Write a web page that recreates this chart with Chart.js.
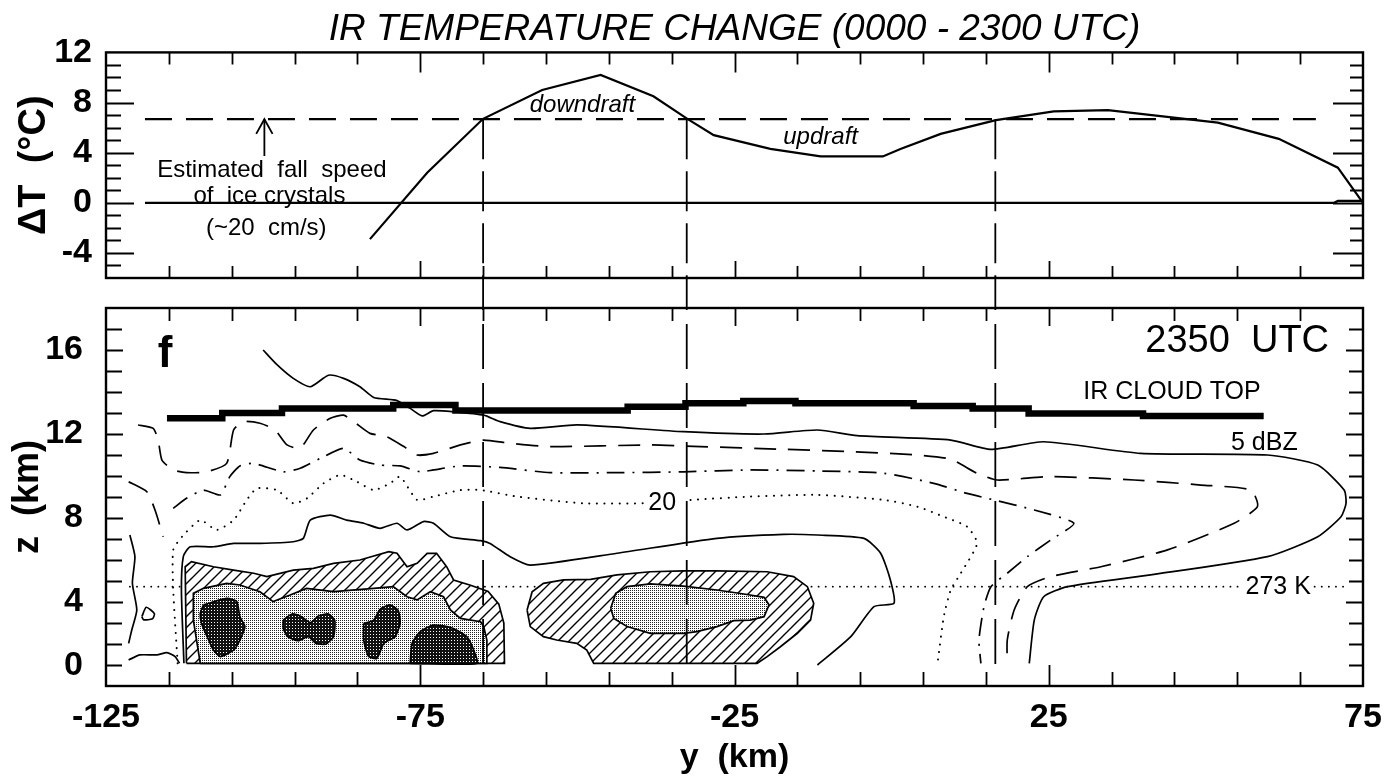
<!DOCTYPE html>
<html>
<head>
<meta charset="utf-8">
<script src="https://cdn.jsdelivr.net/npm/chart.js@4.4.1/dist/chart.umd.min.js"></script>
<style>
  html, body { margin: 0; padding: 0; background: #fff; }
  #wrap { position: relative; width: 1397px; height: 778px; }
  #wrap canvas { position: absolute; left: 0; top: 0; }
</style>
</head>
<body>
<div id="wrap">
  <canvas id="cBottom" width="1397" height="778"></canvas>
  <canvas id="cTop" width="1397" height="778"></canvas>
</div>
<script>
// ---------- top panel: IR temperature change ----------
const yTop   = [-83, -73.9, -65, -55.6, -46.3, -37.9, -32.5, -28.3, -19.3, -11.3, -1.4, 1.4, 7.8, 16.6, 25.8, 34.4, 51.9, 61.6, 71, 75, 76.6];
const deltaT = [-2.9, 2.4, 6.7, 9.0, 10.2, 8.5, 6.7, 5.4, 4.3, 3.7, 3.7, 4.3, 5.5, 6.6, 7.3, 7.4, 6.4, 5.1, 2.8, 0, -1.7];
const zeroLine  = [[-118.8, 0], [70.4, 0], [71, 0.15], [75, 0.15]];
const fallLevel = 6.67;                 // estimated fall speed of ice crystals
const fallSpan  = [-118.8, 67.5];
const arrowAt   = -99.8;
const dividers  = [-65, -32.6, 16.5];   // downdraft / updraft boundaries

// tick labels
const xTickLabels = [-125, -75, -25, 25, 75];
const dTTicks = [-4, 0, 4, 8, 12];
const zTicks  = [0, 4, 8, 12, 16];

// ---------- bottom panel: reflectivity cross-section (y km, z km) ----------
const cloudTop = [[-115.3, 12.75], [-106.5, 13.0], [-97, 13.22], [-79.3, 13.38], [-69.4, 13.12], [-42, 13.3],
  [-32.8, 13.46], [-23.6, 13.57], [-15.3, 13.46], [3.5, 13.33], [12.9, 13.22], [21.8, 12.98], [40, 12.86], [59.2, 12.86]];

const dbz5 = [[-100, 16.0], [-97.8, 15.3], [-95.2, 14.65], [-92.5, 14.25], [-89.6, 14.8], [-87.2, 14.65], [-84.6, 14.25],
  [-82.4, 13.74], [-78.7, 13.59], [-76.6, 13.22], [-74.7, 12.86], [-72.9, 13.11], [-69.7, 13.06], [-64.9, 12.9],
  [-62.3, 12.59], [-57.5, 12.27], [-50.0, 12.43], [-33.1, 12.11], [-20.3, 12.0], [-11.8, 12.19], [-5.5, 11.92],
  [9.4, 11.71], [15.8, 11.27], [24.2, 11.63], [39.6, 11.08], [59.8, 11.0], [67.8, 10.52], [72.0, 9.33], [72.3, 8.7],
  [71.5, 8.06], [67.8, 7.11], [59.8, 6.16], [41.2, 5.29], [28.0, 4.73], [24.2, 4.25], [22.7, 3.14], [21.9, 1.08]];
const dbz5Left = [[-121.2, 7.19], [-120.4, 6.16], [-120.8, 4.89], [-120.1, 3.62], [-120.9, 2.67], [-121.4, 2.03]];
const dbz5Foot = [[-121.4, 1.24], [-119.6, 1.48], [-116.9, 1.48], [-115.3, 1.59], [-114.0, 1.4], [-113.3, 1.08]];
const dbz5Loop = [[-119.3, 3.3], [-118.6, 3.75], [-117.3, 3.45], [-117.6, 3.2], [-119.0, 3.15], [-119.3, 3.3]];

const dbz10 = [[-119.9, 12.43], [-117.5, 12.27], [-116.7, 11.71], [-116.1, 10.76], [-114.3, 10.29], [-112.2, 10.16],
  [-109.0, 10.2], [-105.8, 10.6], [-104.7, 12.19], [-103.1, 12.59], [-100.5, 12.51], [-98.1, 12.19], [-96.2, 11.48],
  [-94.1, 11.32], [-92.0, 12.19], [-89.3, 12.75], [-87.2, 12.9], [-85.6, 12.59], [-83.0, 12.03], [-80.3, 11.87],
  [-77.6, 11.4], [-75.5, 11.0], [-72.9, 11.08], [-68.6, 11.48], [-65, 11.71], [-60.7, 11.56], [-54.3, 11.4],
  [-38.4, 11.48], [-33.1, 11.43], [-17.2, 11.27], [-6.5, 11.16], [4.1, 11.0], [9.4, 10.8], [13.6, 10.13], [16.8, 9.81],
  [25.3, 9.97], [38.6, 9.81], [49.2, 9.57], [57.2, 9.33], [58.2, 8.54], [54.5, 7.75], [43.9, 6.48], [33.3, 5.68],
  [25.3, 5.21], [21.6, 4.73], [19.5, 3.62], [18.4, 2.19], [18.4, 1.08]];
const dbz10Left = [[-121.4, 9.73], [-118.5, 9.25], [-117.2, 8.38], [-115.9, 7.11]];

const dbz15 = [[-114.3, 8.46], [-112.2, 8.94], [-109.5, 9.33], [-106.8, 9.1], [-105.3, 9.97], [-103.7, 10.48],
  [-101.5, 10.6], [-96.8, 10.2], [-94.1, 10.37], [-90.9, 10.84], [-87.2, 11.32], [-84.6, 10.76], [-81.4, 10.52],
  [-78.2, 10.48], [-75.0, 10.2], [-72.9, 10.29], [-68.6, 10.48], [-62.3, 10.41], [-54.3, 10.16], [-43.7, 10.16],
  [-33.1, 10.2], [-22.5, 10.29], [-11.8, 10.24], [-1.2, 10.13], [6.7, 9.65], [12.0, 9.17], [16.3, 8.86], [22.7, 8.38],
  [29.0, 7.75], [25.3, 6.95], [21.6, 6.16], [18.4, 5.37], [15.8, 4.73], [14.7, 3.78], [13.9, 2.19], [14.2, 1.08]];

const dbz20 = [[-113.6, 1.08], [-114.3, 4.57], [-114.3, 6.48], [-112.9, 7.11], [-110.0, 7.9], [-107.4, 7.43],
  [-104.7, 7.9], [-102.6, 8.86], [-101.0, 9.41], [-97.8, 9.33], [-95.2, 8.7], [-93.0, 8.94], [-90.4, 9.65],
  [-87.7, 10.05], [-85.1, 9.73], [-82.4, 9.33], [-79.8, 9.65], [-78.2, 9.97], [-75.5, 8.86], [-72.9, 9.02],
  [-68.6, 9.33], [-65.4, 9.33], [-59.6, 9.02], [-49.0, 8.7], [-38.9, 8.7], [-38.8, null], [-32.0, 8.86],
  [-22.5, 9.02], [-11.8, 9.1], [-1.2, 8.86], [4.1, 8.54], [8.3, 8.06], [12.0, 7.59], [13.6, 6.79], [11.0, 5.37],
  [9.4, 4.57], [8.3, 3.3], [7.3, 1.08]];

const dbz25 = [[-112.6, 1.08], [-113.0, 4.57], [-112.7, 6.16], [-111.6, 6.63], [-107.9, 6.63], [-104.7, 6.79],
  [-100.5, 6.79], [-95.2, 6.87], [-93.6, 7.03], [-92.5, 7.9], [-89.3, 8.14], [-86.7, 7.9], [-84.0, 7.75],
  [-81.4, 7.51], [-78.7, 7.75], [-77.1, 7.43], [-74.5, 7.83], [-72.9, 7.75], [-70.2, 7.11], [-65.4, 6.92],
  [-63.9, 6.79], [-60.7, 6.16], [-57.5, 5.76], [-43.7, 6.32], [-27.8, 7.03], [-17.2, 7.22], [-11.8, 7.19],
  [-4.4, 7.03], [-1.75, 6.32], [-0.2, 5.05], [0.37, 3.94], [-2.8, 3.78], [-6.5, 2.35], [-11.8, 1.0]];

// 30 dBZ (hatched)
const hatchA = [[-112.2, 1.08], [-112.4, 5.68], [-111.4, 5.92], [-107.9, 5.68], [-104.7, 5.52], [-101.5, 5.37],
  [-99.4, 5.21], [-95.2, 5.52], [-92.0, 5.6], [-88.8, 5.84], [-84.6, 6.0], [-80.0, 6.4], [-78.7, 6.32], [-77.1, 5.68],
  [-75.5, 5.84], [-73.9, 6.32], [-72.4, 6.32], [-70.8, 5.68], [-69.7, 5.05], [-67.0, 4.8], [-64.2, 4.5], [-62.5, 3.9],
  [-61.7, 3.0], [-61.6, 1.08], [-112.2, 1.08]];
const hatchB = [[-58.0, 3.62], [-57.2, 4.49], [-55.4, 4.89], [-52.2, 5.05], [-47.9, 5.08], [-43.7, 5.29], [-38.4, 5.44],
  [-33.1, 5.48], [-27.8, 5.48], [-19.8, 5.44], [-15.6, 5.21], [-13.4, 4.73], [-12.4, 3.94], [-12.9, 3.14], [-15.0, 2.51],
  [-17.7, 1.87], [-19.8, 1.4], [-21.4, 1.08], [-47.4, 1.08], [-48.5, 1.71], [-50.1, 2.03], [-53.3, 2.19], [-55.4, 2.35],
  [-57.5, 2.83], [-58.0, 3.62]];
// 35 dBZ (light stipple)
const stippleA = [[-110.0, 1.08], [-111.1, 3.14], [-111.1, 4.41], [-109.5, 4.65], [-105.8, 4.89], [-103.7, 4.81],
  [-100.5, 4.49], [-98.4, 4.02], [-95.7, 4.33], [-93.1, 4.65], [-88.8, 4.49], [-82.4, 4.65], [-79.3, 4.73], [-77.1, 4.25],
  [-75.5, 4.1], [-73.4, 4.49], [-71.3, 4.25], [-70.2, 3.62], [-68.6, 3.22], [-65.4, 3.06], [-64.9, 2.83], [-64.4, 2.19],
  [-64.4, 1.08], [-110.0, 1.08]];
const stippleB = [[-44.7, 3.7], [-43.9, 4.41], [-42.1, 4.73], [-38.4, 4.86], [-33.1, 4.76], [-27.8, 4.57], [-23.5, 4.38],
  [-20.3, 4.22], [-19.5, 3.86], [-20.3, 3.3], [-22.5, 3.14], [-25.1, 3.11], [-27.8, 2.83], [-31.0, 2.59], [-33.1, 2.51],
  [-38.4, 2.51], [-42.1, 2.83], [-44.2, 3.22], [-44.7, 3.7]];
// 40 dBZ (dark)
const darkA = [[-109.5, 3.86], [-105.8, 4.17], [-104.2, 4.02], [-103.7, 3.3], [-102.9, 2.83], [-103.7, 2.19], [-104.7, 1.71],
  [-106.8, 1.4], [-107.9, 1.71], [-108.9, 2.35], [-109.8, 2.98], [-110.0, 3.46], [-109.5, 3.86]];
const darkB = [[-96.8, 3.14], [-95.4, 3.43], [-93.9, 3.3], [-92.5, 3.02], [-91.2, 3.33], [-89.6, 3.43], [-88.6, 3.11],
  [-88.8, 2.35], [-90.0, 2.0], [-91.6, 2.03], [-92.8, 2.35], [-94.4, 2.16], [-96.1, 2.35], [-96.8, 2.75], [-96.8, 3.14]];
const darkC = [[-84.0, 2.98], [-82.4, 3.14], [-81.4, 3.65], [-79.8, 3.86], [-78.5, 3.59], [-78.2, 2.98], [-79.0, 2.35],
  [-80.8, 2.03], [-81.9, 1.32], [-83.2, 1.4], [-84.0, 2.19], [-84.0, 2.98]];
const darkD = [[-76.6, 1.08], [-76.3, 2.03], [-75.0, 2.59], [-72.9, 2.9], [-70.2, 2.79], [-67.6, 2.35], [-66.5, 1.71],
  [-66.0, 1.08], [-76.6, 1.08]];

const freezing = [[-121.2, 4.73], [55.6, 4.73], [55.7, null], [67.3, 4.73], [72.6, 4.73]];

// ---------- helpers ----------
const fam = "'Liberation Sans', Arial, sans-serif";
const pts = arr => arr.map(p => ({ x: p[0], y: p[1] }));

function line(data, extra) {
  return Object.assign({
    data: pts(data), borderColor: '#000', backgroundColor: '#000', borderWidth: 1.6,
    pointRadius: 0, fill: false, tension: 0
  }, extra || {});
}

function pattern(ctx, size, draw) {
  const c = document.createElement('canvas');
  c.width = size; c.height = size;
  const g = c.getContext('2d');
  g.fillStyle = '#fff';
  g.fillRect(0, 0, size, size);
  draw(g, size);
  return ctx.createPattern(c, 'repeat');
}

// frame, inward tick marks and text notes
function panelPlugin(spec) {
  return {
    id: 'panel',
    afterDatasetsDraw(chart) {
      const { ctx, chartArea: a } = chart;
      const x = chart.scales.x, y = chart.scales.y;
      ctx.save();
      ctx.strokeStyle = '#000';
      ctx.lineWidth = 1.8;
      ctx.beginPath();
      for (let k = 1; k < 20; k++) {
        const v = -125 + k * 10;
        const px = Math.round(x.getPixelForValue(v)) + 0.5;
        const major = (v + 125) % 50 === 0;
        ctx.moveTo(px, a.top); ctx.lineTo(px, a.top + (major ? spec.tMaj : spec.tMin));
        ctx.moveTo(px, a.bottom); ctx.lineTo(px, a.bottom - (major ? spec.bMaj : spec.bMin));
      }
      for (let v = Math.round(y.min) + 1; v < y.max; v++) {
        const py = Math.round(y.getPixelForValue(v)) + 0.5;
        const major = spec.yMajor.includes(v);
        ctx.moveTo(a.left, py); ctx.lineTo(a.left + (major ? spec.lMaj : spec.lMin), py);
        ctx.moveTo(a.right, py); ctx.lineTo(a.right - (major ? spec.rMaj : spec.rMin), py);
      }
      ctx.stroke();
      ctx.lineWidth = 2.4;
      ctx.strokeRect(a.left, a.top, a.right - a.left, a.bottom - a.top);

      ctx.fillStyle = '#000';
      ctx.textBaseline = 'middle';
      spec.notes.forEach(n => {
        ctx.font = n.font;
        ctx.textAlign = n.align || 'center';
        ctx.fillText(n.text, x.getPixelForValue(n.at[0]), y.getPixelForValue(n.at[1]));
      });
      ctx.restore();
    }
  };
}

const common = {
  responsive: false,
  animation: false,
  events: [],
  plugins: { legend: { display: false }, tooltip: { enabled: false } }
};

// ---------- top chart ----------
const topDatasets = [];
dividers.forEach(d => topDatasets.push(line([[d, fallLevel], [d, -6]], { borderDash: [40, 12], borderWidth: 1.8 })));
topDatasets.push({
  data: yTop.map((v, i) => ({ x: v, y: deltaT[i] })),
  borderColor: '#000', borderWidth: 2.2, pointRadius: 0, tension: 0, fill: false, clip: false
});
topDatasets.push(line([[arrowAt, 3.73], [arrowAt, fallLevel]], { borderWidth: 1.8 }));
topDatasets.push(line([[arrowAt - 1.3, 5.5], [arrowAt, fallLevel], [arrowAt + 1.3, 5.5]], { borderWidth: 1.8 }));
topDatasets.push(line([[fallSpan[0], fallLevel], [fallSpan[1], fallLevel]], { borderDash: [27, 14], borderWidth: 2.2 }));
topDatasets.push(line(zeroLine, { borderWidth: 2.2 }));

new Chart(document.getElementById('cTop'), {
  type: 'line',
  data: { datasets: topDatasets },
  options: Object.assign({}, common, {
    layout: { padding: { left: 0, right: 34, top: 0, bottom: 500 } },
    plugins: Object.assign({}, common.plugins, {
      title: {
        display: true, fullSize: false, color: '#000',
        text: 'IR TEMPERATURE CHANGE (0000 - 2300 UTC)',
        font: { family: fam, size: 37, style: 'italic', weight: 'normal' },
        padding: { top: 8, bottom: 0 }
      }
    }),
    scales: {
      x: { type: 'linear', min: -125, max: 75, display: false },
      y: {
        type: 'linear', min: -6, max: 12,
        grid: { display: false }, border: { display: false },
        afterBuildTicks: s => { s.ticks = dTTicks.map(v => ({ value: v })); },
        ticks: { color: '#000', padding: 6, font: { family: fam, size: 34, weight: 'bold' } },
        title: { display: true, text: 'ΔT  (°C)', color: '#000', font: { family: fam, size: 38, weight: 'bold' }, padding: { top: 12, bottom: 0 } },
        afterFit: s => { s.width = 106; }
      }
    }
  }),
  plugins: [panelPlugin({
    tMin: 12, tMaj: 20, bMin: 12, bMaj: 17, lMin: 15, lMaj: 28, rMin: 13, rMaj: 30,
    yMajor: [-4, 0, 4, 8],
    notes: [
      { text: 'Estimated  fall  speed', at: [-98.6, 2.55], font: `24px ${fam}` },
      { text: 'of  ice crystals', at: [-99.0, 0.5], font: `24px ${fam}` },
      { text: '(~20  cm/s)', at: [-99.5, -2.05], font: `24px ${fam}` },
      { text: 'downdraft', at: [-49.2, 7.8], font: `italic 24px ${fam}` },
      { text: 'updraft', at: [-11.3, 5.2], font: `italic 24px ${fam}` }
    ]
  })]
});

// ---------- bottom chart ----------
const bctx = document.getElementById('cBottom').getContext('2d');
const hatch = pattern(bctx, 11, (g, s) => {
  g.strokeStyle = '#000'; g.lineWidth = 1.4; g.beginPath();
  g.moveTo(0, s); g.lineTo(s, 0);
  g.moveTo(-2, 2); g.lineTo(2, -2);
  g.moveTo(s - 2, s + 2); g.lineTo(s + 2, s - 2);
  g.stroke();
});
const stipple = pattern(bctx, 2, g => { g.fillStyle = '#222'; g.fillRect(0, 0, 1, 1); });
const dark = pattern(bctx, 3, g => { g.fillStyle = '#111'; g.fillRect(0, 0, 3, 3); g.fillStyle = '#fff'; g.fillRect(1, 1, 1, 1); });

const solid = { borderWidth: 1.7, tension: 0.2 };
const dotted = { borderWidth: 2, borderDash: [0.1, 7.5], borderCapStyle: 'round', tension: 0.2 };
const bottomDatasets = [];
dividers.forEach(d => bottomDatasets.push(line([[d, 1.05], [d, 19.5]], { borderDash: [45, 14], borderWidth: 1.8, clip: false })));
bottomDatasets.push(line(cloudTop, { borderWidth: 6.5, stepped: true }));
bottomDatasets.push(line(dbz5, solid));
bottomDatasets.push(line(dbz5Left, solid));
bottomDatasets.push(line(dbz5Foot, solid));
bottomDatasets.push(line(dbz5Loop, solid));
bottomDatasets.push(line(dbz10, { borderWidth: 1.7, borderDash: [22, 12], tension: 0.2 }));
bottomDatasets.push(line(dbz10Left, { borderWidth: 1.7, borderDash: [22, 12], tension: 0.2 }));
bottomDatasets.push(line(dbz15, { borderWidth: 1.7, borderDash: [18, 8, 2, 8], tension: 0.2 }));
bottomDatasets.push(line(dbz20, dotted));
bottomDatasets.push(line(dbz25, solid));
[darkA, darkB, darkC, darkD].forEach(b => bottomDatasets.push(line(b, { borderWidth: 1.7, fill: 'shape', backgroundColor: dark, tension: 0.2 })));
[stippleA, stippleB].forEach(b => bottomDatasets.push(line(b, { borderWidth: 1.7, fill: 'shape', backgroundColor: stipple })));
[hatchA, hatchB].forEach(b => bottomDatasets.push(line(b, { borderWidth: 1.7, fill: 'shape', backgroundColor: hatch })));
bottomDatasets.push(line(freezing, { borderWidth: 1.8, borderDash: [0.1, 7], borderCapStyle: 'round' }));

new Chart(bctx, {
  type: 'line',
  data: { datasets: bottomDatasets },
  options: Object.assign({}, common, {
    layout: { padding: { left: 0, right: 34, top: 308, bottom: 0 } },
    scales: {
      x: {
        type: 'linear', min: -125, max: 75,
        grid: { display: false }, border: { display: false },
        afterBuildTicks: s => { s.ticks = xTickLabels.map(v => ({ value: v })); },
        ticks: { color: '#000', padding: 3, autoSkip: false, maxRotation: 0, minRotation: 0, font: { family: fam, size: 34, weight: 'bold' } },
        title: { display: true, text: 'y  (km)', color: '#000', font: { family: fam, size: 34, weight: 'bold' }, padding: { top: 0, bottom: 0 } },
        afterFit: s => { s.height = 92; }
      },
      y: {
        type: 'linear', min: 0, max: 18,
        grid: { display: false }, border: { display: false },
        afterBuildTicks: s => { s.ticks = zTicks.map(v => ({ value: v })); },
        ticks: {
          color: '#000', padding: 15, font: { family: fam, size: 34, weight: 'bold' },
          callback: v => (v === 0 ? ['0', ''] : String(v))
        },
        title: { display: true, text: 'z  (km)', color: '#000', font: { family: fam, size: 36, weight: 'bold' }, padding: { top: 6, bottom: 0 } },
        afterFit: s => { s.width = 106; }
      }
    }
  }),
  plugins: [panelPlugin({
    tMin: 13, tMaj: 18, bMin: 14, bMaj: 21, lMin: 16, lMaj: 17, rMin: 14, rMaj: 17,
    yMajor: [4, 8, 12, 16],
    notes: [
      { text: 'f', at: [-115.6, 15.76], font: `bold 44px ${fam}` },
      { text: '2350  UTC', at: [69.6, 16.4], font: `38px ${fam}`, align: 'right' },
      { text: 'IR CLOUD TOP', at: [44.6, 14.0], font: `25px ${fam}` },
      { text: '5 dBZ', at: [59.3, 11.57], font: `25px ${fam}` },
      { text: '273 K', at: [61.5, 4.71], font: `25px ${fam}` },
      { text: '20', at: [-36.5, 8.71], font: `25px ${fam}` }
    ]
  })]
});
</script>
</body>
</html>
